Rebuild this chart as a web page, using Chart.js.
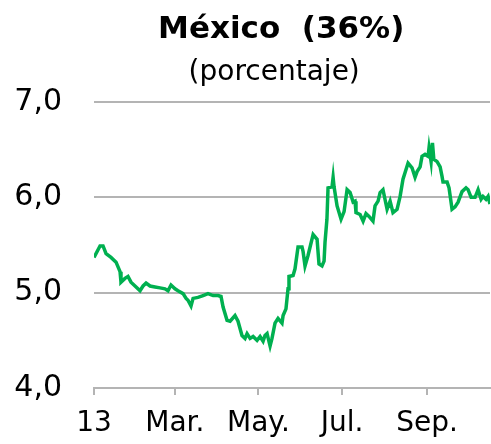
<!DOCTYPE html>
<html>
<head>
<meta charset="utf-8">
<script src="https://cdn.jsdelivr.net/npm/chart.js@4"></script>
<style>
  html, body { margin: 0; padding: 0; background: #fff; }
  #wrap { width: 491px; height: 444px; }
</style>
</head>
<body>
<div id="wrap"><canvas id="mx" width="491" height="444"></canvas></div>
<script>
// days since 1 Jan 2013
const days = [
  0, 4.4, 6.6, 8.8, 12.4, 16.1, 19, 19.7, 22.6, 24.8, 27, 30.7, 33.6, 35.8, 38, 40.9,
  44.5, 48.2, 51.8, 54, 56.2, 59.1, 61.3, 65, 67.2, 68.6, 70.8, 72.3, 75.9, 79.6,
  83.2, 86.9, 90.5, 92.7, 94.2, 97.1, 99.3, 102.9, 105.1, 108, 110.2, 111.7, 113.9,
  116.1, 119, 121.2, 123.4, 124.8, 126.3, 128.5, 129.9, 132.1, 134.3, 137.2, 138,
  140.1, 141.6, 142.3, 145.3, 146.7, 148.9, 151.8, 152.6, 154, 156.2, 159.9, 162.8,
  164.2, 166.4, 167.9, 168.6, 170, 170.8, 173.7, 174.5, 175.2, 177.4, 180.3, 182.5,
  184.7, 186.9, 189.1, 190.5, 191.2, 194.2, 196.4, 198.5, 200.7, 203.6, 205.1, 207.3,
  208.8, 210.9, 213.9, 216.1, 218.2, 221.2, 223.4, 225.5, 229.2, 232.1, 234.3, 235.8,
  238, 239.4, 241.6, 243.8, 244.5, 246, 247, 248, 250.4, 252.6, 254, 254.7, 257.7,
  259.1, 261.3, 263.5, 265.7, 268.6, 271.5, 273, 275.2, 278.1, 280.3, 282.5, 283.9,
  286.1, 287.6, 289
];
const rates = [
  5.37, 5.49, 5.49, 5.41, 5.37, 5.32, 5.22, 5.11, 5.15, 5.17, 5.11, 5.06, 5.02, 5.07, 5.10, 5.07,
  5.06, 5.05, 5.04, 5.02, 5.08, 5.04, 5.02, 4.99, 4.94, 4.92, 4.86, 4.94, 4.95, 4.97,
  4.99, 4.97, 4.97, 4.96, 4.85, 4.71, 4.70, 4.76, 4.70, 4.55, 4.52, 4.57, 4.52,
  4.54, 4.50, 4.54, 4.49, 4.55, 4.57, 4.44, 4.52, 4.68, 4.73, 4.68, 4.76,
  4.83, 5.04, 5.17, 5.18, 5.25, 5.48, 5.48, 5.43, 5.28, 5.39, 5.61, 5.56,
  5.30, 5.28, 5.33, 5.53, 5.77, 6.10, 6.11, 6.21, 6.11, 5.91, 5.77, 5.85,
  6.08, 6.05, 5.95, 5.96, 5.84, 5.82, 5.75, 5.83, 5.80, 5.75, 5.91, 5.96,
  6.05, 6.08, 5.875, 5.96, 5.84, 5.875, 6.01, 6.19, 6.36, 6.31, 6.21, 6.27,
  6.32, 6.43, 6.45, 6.43, 6.52, 6.375, 6.57, 6.40, 6.375, 6.32, 6.22, 6.16, 6.16,
  6.10, 5.875, 5.90, 5.95, 6.06, 6.10, 6.08, 6.00, 6.00, 6.08, 5.98, 6.01,
  5.98, 6.01, 5.93
];
const tickDays = [0, 59, 120, 181, 243];
const tickLabels = ["13", "Mar.", "May.", "Jul.", "Sep."];

const font = "'DejaVu Sans', Verdana, sans-serif";
const grey = "#b4b4b4";

new Chart(document.getElementById("mx").getContext("2d"), {
  type: "line",
  data: {
    datasets: [
      {
        data: days.map((d, i) => ({ x: d, y: rates[i] })),
        borderColor: "#00b050",
        borderWidth: 3.5,
        pointRadius: 0,
        tension: 0,
        fill: false,
      },
    ],
  },
  options: {
    responsive: false,
    animation: false,
    devicePixelRatio: 1,
    layout: { padding: { left: 13, right: 1, top: 0, bottom: 0 } },
    plugins: {
      legend: { display: false },
      tooltip: { enabled: false },
      title: {
        display: true,
        fullSize: false,
        // trailing spaces nudge the centred title left like the original
        text: "México  (36%)\u00a0\u00a0",
        color: "#000",
        font: { family: font, size: 31, weight: "bold", lineHeight: 1 },
        padding: { top: 14, bottom: 14 },
      },
      subtitle: {
        display: true,
        fullSize: false,
        text: "(porcentaje)\u00a0\u00a0\u00a0\u00a0",
        color: "#000",
        font: { family: font, size: 28, weight: "normal", lineHeight: 1 },
        padding: { top: 0, bottom: 15 },
      },
    },
    scales: {
      x: {
        type: "linear",
        min: 0,
        max: 289,
        afterBuildTicks: (axis) => {
          axis.ticks = tickDays.map((v) => ({ value: v }));
        },
        afterFit: (axis) => {
          axis.height = 56;
        },
        ticks: {
          autoSkip: false,
          maxRotation: 0,
          color: "#000",
          font: { family: font, size: 28 },
          padding: 12,
          callback: (v) => tickLabels[tickDays.indexOf(v)] ?? "",
        },
        grid: {
          drawOnChartArea: false,
          drawTicks: true,
          tickLength: 7,
          color: grey,
          lineWidth: 2,
        },
        border: { display: true, color: grey, width: 2 },
      },
      y: {
        min: 4,
        max: 7,
        afterFit: (axis) => {
          axis.width = 81;
        },
        ticks: {
          stepSize: 1,
          color: "#000",
          font: { family: font, size: 30 },
          padding: 32,
          callback: (v) => v.toFixed(1).replace(".", ","),
        },
        grid: { color: grey, lineWidth: 2, drawTicks: false },
        border: { display: false },
      },
    },
  },
});
</script>
</body>
</html>
